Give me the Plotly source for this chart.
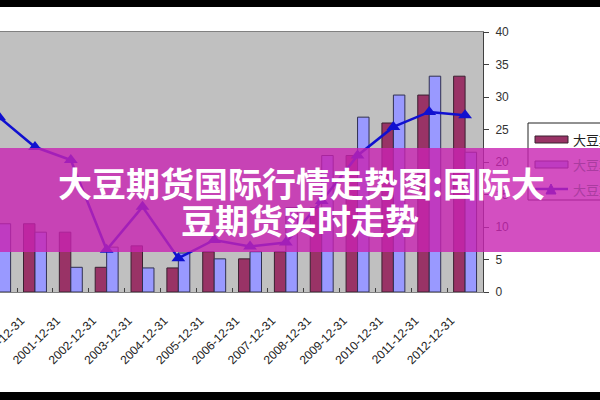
import plotly.graph_objects as go

categories = ["1999-12-31", "2000-12-31", "2001-12-31", "2002-12-31", "2003-12-31",
              "2004-12-31", "2005-12-31", "2006-12-31", "2007-12-31", "2008-12-31",
              "2009-12-31", "2010-12-31", "2011-12-31", "2012-12-31"]
series_a = [None, 10.5, 9.2, 3.8, 7.1, 3.7, 6.2, 5.1, 6.2, 13.0, 21.0, 26.0, 30.3, 33.2]
series_b = [10.5, 9.2, 3.8, 6.9, 3.7, 6.0, 5.1, 6.2, 13.0, 21.0, 26.9, 30.3, 33.2, 21.5]
series_line = [26.9, 22.3, 20.3, 6.5, 13.1, 5.2, 8.0, 7.0, 7.6, 14.0, 21.0, 25.4, 27.7, 27.2]
legend_names = ["大豆期货", "大豆期货", "大豆期货"]
y_ticks = [0, 5, 10, 15, 20, 25, 30, 35, 40]
title_line1 = "大豆期货国际行情走势图:国际大"
title_line2 = "豆期货实时走势"

MAROON = "#993366"
PERI = "#9999FF"
BLUE = "#1010D0"

fig = go.Figure()
fig.add_bar(x=categories, y=series_a, marker=dict(color=MAROON, line=dict(color="#3a2030", width=1)),
            showlegend=False)
fig.add_bar(x=categories, y=series_b, marker=dict(color=PERI, line=dict(color="#303050", width=1)),
            showlegend=False)
fig.add_scatter(x=categories, y=series_line, mode="lines+markers",
                line=dict(color=BLUE, width=2.5),
                marker=dict(symbol="triangle-up", size=12, color=BLUE),
                showlegend=False)

# pixel -> paper helpers (plot area: x 0..483, y 32..292)
def px(x):
    return x / 483.0

def py(y):
    return (292.0 - y) / 260.0

shapes = []
# outer black borders
shapes.append(dict(type="rect", xref="paper", yref="paper", x0=px(-5), x1=px(605), y0=py(0), y1=py(7),
                   fillcolor="black", line=dict(width=0), layer="above"))
shapes.append(dict(type="rect", xref="paper", yref="paper", x0=px(-5), x1=px(605), y0=py(392), y1=py(405),
                   fillcolor="black", line=dict(width=0), layer="above"))
# legend box
shapes.append(dict(type="rect", xref="paper", yref="paper", x0=px(528), x1=px(640), y0=py(200), y1=py(123),
                   fillcolor="white", line=dict(color="#222", width=1), layer="above"))
shapes.append(dict(type="rect", xref="paper", yref="paper", x0=px(535), x1=px(568), y0=py(143), y1=py(136),
                   fillcolor=MAROON, line=dict(color="#3a2030", width=1), layer="above"))
shapes.append(dict(type="rect", xref="paper", yref="paper", x0=px(535), x1=px(568), y0=py(168), y1=py(161),
                   fillcolor=PERI, line=dict(color="#303050", width=1), layer="above"))
shapes.append(dict(type="line", xref="paper", yref="paper", x0=px(535), x1=px(568), y0=py(189), y1=py(189),
                   line=dict(color=BLUE, width=2.5), layer="above"))
shapes.append(dict(type="path", xref="paper", yref="paper",
                   path="M %f %f L %f %f L %f %f Z" % (px(546), py(194), px(556), py(194), px(551), py(184)),
                   fillcolor=BLUE, line=dict(color=BLUE, width=1), layer="above"))
# magenta overlay band
shapes.append(dict(type="rect", xref="paper", yref="paper", x0=px(-5), x1=px(605), y0=py(252), y1=py(148),
                   fillcolor="rgba(200,35,178,0.8)", line=dict(width=0), layer="above"))

annotations = [
    dict(text=legend_names[0], xref="paper", yref="paper", x=px(571), y=py(139), xanchor="left", yanchor="middle",
         showarrow=False, font=dict(size=13, color="#222", family="Noto Sans CJK SC")),
    dict(text=legend_names[1], xref="paper", yref="paper", x=px(571), y=py(164), xanchor="left", yanchor="middle",
         showarrow=False, font=dict(size=13, color="rgb(170,60,160)", family="Noto Sans CJK SC")),
    dict(text=legend_names[2], xref="paper", yref="paper", x=px(571), y=py(189), xanchor="left", yanchor="middle",
         showarrow=False, font=dict(size=13, color="rgb(170,60,160)", family="Noto Sans CJK SC")),
    dict(text="<b>" + title_line1 + "</b>", xref="paper", yref="paper", x=px(301), y=py(183),
         xanchor="center", yanchor="middle", showarrow=False,
         font=dict(size=34, color="white", family="Noto Sans CJK SC")),
    dict(text="<b>" + title_line2 + "</b>", xref="paper", yref="paper", x=px(300), y=py(219),
         xanchor="center", yanchor="middle", showarrow=False,
         font=dict(size=34, color="white", family="Noto Sans CJK SC")),
]

fig.update_layout(
    width=600, height=400,
    margin=dict(l=0, r=117, t=32, b=108, autoexpand=False),
    paper_bgcolor="white", plot_bgcolor="#C0C0C0",
    barmode="group", bargap=0.36, bargroupgap=0.0,
    shapes=shapes, annotations=annotations,
    font=dict(family="Liberation Sans, Arial", color="#222"),
    xaxis=dict(type="category", categoryorder="array", categoryarray=categories,
               range=[0.024, 13.5], tickson="boundaries", ticks="inside", ticklen=4,
               tickcolor="#404040", showline=True, linecolor="#808080", mirror=True,
               showgrid=False, tickangle=-45, tickfont=dict(size=12, color="#222"),
               ticklabelshift=-14, ticklabelstandoff=16, automargin=False),
    yaxis=dict(side="right", range=[0, 40], tickvals=y_ticks, ticks="outside", ticklen=5,
               tickcolor="#404040", showline=True, linecolor="#404040", showgrid=False,
               zeroline=False, tickfont=dict(size=12, color="#333"), ticklabelstandoff=4,
               automargin=False),
)

fig.write_html("out.html")
